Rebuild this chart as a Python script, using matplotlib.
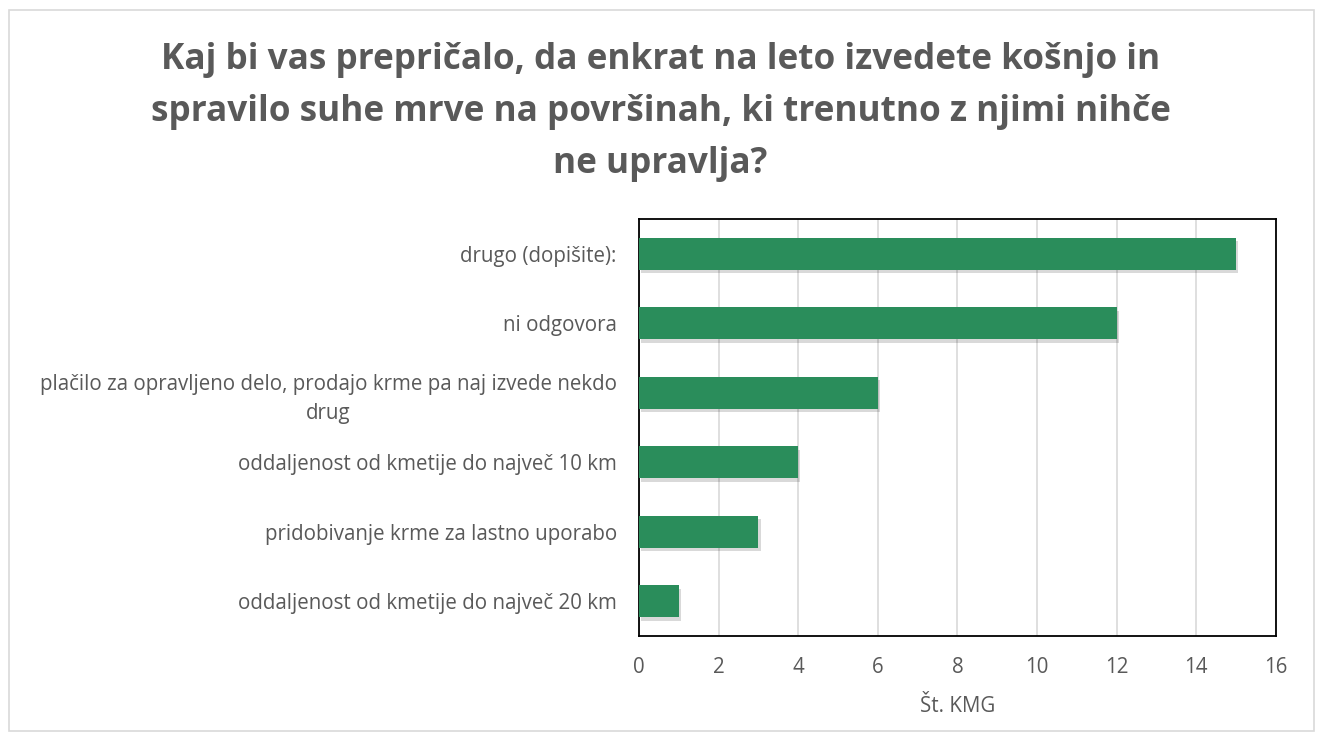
import matplotlib
matplotlib.use("Agg")
import matplotlib.pyplot as plt
import matplotlib.patheffects as pe
from matplotlib.patches import Rectangle

categories = [
    "drugo (dopišite):",
    "ni odgovora",
    "plačilo za opravljeno delo, prodajo krme pa naj izvede nekdo\ndrug",
    "oddaljenost od kmetije do največ 10 km",
    "pridobivanje krme za lastno uporabo",
    "oddaljenost od kmetije do največ 20 km",
]
values = [15, 12, 6, 4, 3, 1]
xticks = [0, 2, 4, 6, 8, 10, 12, 14, 16]
title = ("Kaj bi vas prepričalo, da enkrat na leto izvedete košnjo in\n"
         "spravilo suhe mrve na površinah, ki trenutno z njimi nihče\n"
         "ne upravlja?")
xlabel = "Št. KMG"

W, H = 1321, 740
fig = plt.figure(figsize=(W / 100, H / 100), dpi=100)
plt.rcParams['font.family'] = ['Open Sans', 'DejaVu Sans']
grey = "#595959"

# outer border
fig.patches.append(Rectangle((9 / W, 1 - 731 / H), (1314 - 9) / W, (731 - 10) / H,
                             transform=fig.transFigure, fill=False,
                             edgecolor="#d9d9d9", linewidth=1.2))

ax = fig.add_axes([639 / W, 1 - 636 / H, (1276 - 639) / W, (636 - 219) / H])
ypos = list(range(len(categories)))
bars = ax.barh(ypos, values, height=0.46, color="#2a8d5b", zorder=3)
for b in bars:
    b.set_path_effects([pe.SimplePatchShadow(offset=(1.5, -2.5), shadow_rgbFace="#000000", alpha=0.15),
                        pe.Normal()])
ax.set_ylim(len(categories) - 0.5, -0.5)
ax.set_xlim(0, 16)
ax.set_xticks(xticks)
ax.set_xticklabels([str(t) for t in xticks])
ax.set_yticks(ypos)
ax.set_yticklabels(categories, multialignment="center", linespacing=1.5)
ax.tick_params(axis="both", length=0, colors=grey, labelsize=14.8)
ax.tick_params(axis="x", pad=15)
ax.tick_params(axis="y", pad=16)
ax.grid(axis="x", color="#d9d9d9", linewidth=1.2, zorder=0)
for s in ax.spines.values():
    s.set_color("black")
    s.set_linewidth(1.3)
ax.set_xlabel(xlabel, color=grey, fontsize=14.8, labelpad=13)

fig.text(0.5, 1 - 112 / H, title, ha="center", va="center", fontsize=25.3,
         fontweight="bold", color=grey, linespacing=1.58)

fig.savefig("out.png", dpi=100)
